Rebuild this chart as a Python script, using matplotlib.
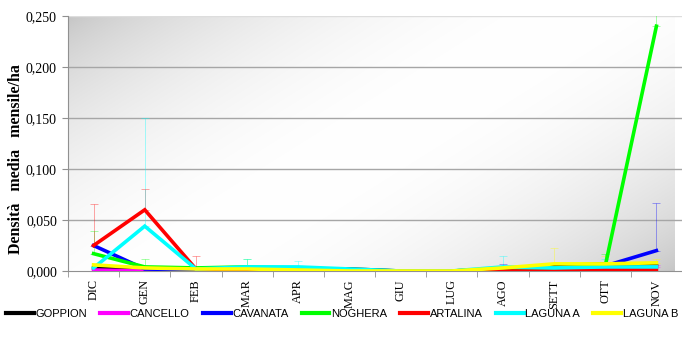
import numpy as np
import matplotlib
matplotlib.use("Agg")
import matplotlib.pyplot as plt
from matplotlib.ticker import FuncFormatter, FixedLocator

months = ["DIC", "GEN", "FEB", "MAR", "APR", "MAG", "GIU", "LUG", "AGO", "SETT", "OTT", "NOV"]

goppion  = [0.003, 0.002, 0.002, 0.002, 0.002, 0.002, 0.000, 0.000, 0.002, 0.005, 0.007, 0.005]
cancello = [0.001, 0.000, 0.000, 0.000, 0.000, 0.000, 0.000, 0.000, 0.000, 0.001, 0.002, 0.004]
cavanata = [0.025, 0.002, 0.001, 0.001, 0.001, 0.001, 0.000, 0.000, 0.002, 0.003, 0.005, 0.020]
noghera  = [0.017, 0.004, 0.003, 0.004, 0.003, 0.001, 0.000, 0.000, 0.002, 0.003, 0.005, 0.240]
artalina = [0.025, 0.060, 0.002, 0.001, 0.001, 0.000, 0.000, 0.000, 0.000, 0.000, 0.001, 0.001]
laguna_a = [0.003, 0.044, 0.002, 0.004, 0.004, 0.002, 0.000, 0.000, 0.004, 0.003, 0.004, 0.004]
laguna_b = [0.006, 0.003, 0.002, 0.002, 0.001, 0.000, 0.000, 0.000, 0.003, 0.007, 0.007, 0.008]

# standard deviations (upper whiskers)
goppion_sd  = [0, 0, 0, 0, 0, 0, 0, 0, 0, 0, 0, 0]
cancello_sd = [0, 0, 0, 0, 0, 0, 0, 0, 0, 0, 0, 0.002]
cavanata_sd = [0, 0, 0, 0, 0, 0, 0, 0, 0.005, 0, 0, 0.047]
noghera_sd  = [0.022, 0.008, 0, 0.008, 0, 0, 0, 0, 0, 0, 0.012, 0.020]
artalina_sd = [0.041, 0.020, 0.013, 0, 0, 0, 0, 0, 0, 0, 0, 0]
laguna_a_sd = [0, 0.106, 0, 0.008, 0.006, 0, 0, 0, 0.011, 0, 0.008, 0]
laguna_b_sd = [0, 0, 0, 0, 0, 0, 0, 0, 0, 0.016, 0.008, 0.004]

series = [
    ("GOPPION", goppion, goppion_sd, "#000000"),
    ("CANCELLO", cancello, cancello_sd, "#ff00ff"),
    ("CAVANATA", cavanata, cavanata_sd, "#0000ff"),
    ("NOGHERA", noghera, noghera_sd, "#00ff00"),
    ("ARTALINA", artalina, artalina_sd, "#ff0000"),
    ("LAGUNA A", laguna_a, laguna_a_sd, "#00ffff"),
    ("LAGUNA B", laguna_b, laguna_b_sd, "#ffff00"),
]

serif = ["Liberation Serif", "DejaVu Serif"]
sans = ["Liberation Sans", "DejaVu Sans"]

fig = plt.figure(figsize=(6.82, 3.46), dpi=100)
ax = fig.add_axes([68 / 682, 1 - 271 / 346, 1 - 68 / 682, (271 - 16) / 346])

x = np.arange(len(months))
ax.set_xlim(-0.48, 11.35)
ax.set_ylim(0, 0.25)

# diagonal grey-white-grey background
gx, gy = np.meshgrid(np.linspace(0, 1, 300), np.linspace(1, 0, 150))
t = np.clip(gx * 0.6 + (1 - gy) * 0.4, 0, 1)
shade = 0.77 + 0.23 * np.sin(np.pi * t) ** 0.7
shade = np.clip(shade, 0, 1)
ax.imshow(np.dstack([shade] * 3), extent=[-0.48, 11.35, 0, 0.25], aspect="auto",
          zorder=0, interpolation="bilinear")

for yv in np.arange(0.05, 0.251, 0.05):
    ax.axhline(yv, color="#a6a6a6" if yv < 0.24 else "#dddddd", lw=1.0, zorder=1)

for name, vals, sd, col in series:
    vals = np.array(vals)
    sd = np.array(sd)
    mask = sd > 0
    if mask.any():
        ax.errorbar(x[mask], vals[mask], yerr=[np.zeros(mask.sum()), sd[mask]],
                    fmt="none", ecolor=col, elinewidth=0.7, capsize=3,
                    capthick=0.7, alpha=0.35, zorder=2)
for name, vals, sd, col in series:
    ax.plot(x, vals, color=col, lw=2.6, label=name, zorder=3,
            solid_joinstyle="miter")

for s in ["top", "right"]:
    ax.spines[s].set_visible(False)
ax.spines["left"].set_color("#909090")
ax.spines["bottom"].set_color("#909090")

ax.yaxis.set_major_locator(FixedLocator(np.arange(0, 0.251, 0.05)))
ax.yaxis.set_major_formatter(FuncFormatter(lambda v, p: f"{v:.3f}".replace(".", ",")))
ax.tick_params(axis="y", length=4, color="#909090", labelsize=10, pad=4)
for lab in ax.get_yticklabels():
    lab.set_family(serif)

ax.set_xticks(x)
ax.set_xticklabels(months, rotation=90, fontsize=8.8, family=serif)
ax.set_xticks(np.arange(-0.5, 11.6, 1), minor=True)
ax.tick_params(axis="x", which="major", length=0, pad=6)
ax.tick_params(axis="x", which="minor", length=4, color="#909090")

ax.set_ylabel("Densità   media   mensile/ha", fontsize=11.5, fontweight="bold",
              family=serif)
ax.yaxis.set_label_coords(-0.072, 0.44)

handles, labels = ax.get_legend_handles_labels()
leg = fig.legend(handles, labels, loc="center",
                 bbox_to_anchor=(6 / 682, 1 - 323 / 346, 672 / 682, 18 / 346),
                 mode="expand", ncol=7, frameon=False,
                 prop={"family": sans, "size": 8},
                 handlelength=2.5, handletextpad=0.15, borderpad=0, borderaxespad=0)
for ln in leg.get_lines():
    ln.set_linewidth(3)

fig.savefig("out.png", dpi=100)
